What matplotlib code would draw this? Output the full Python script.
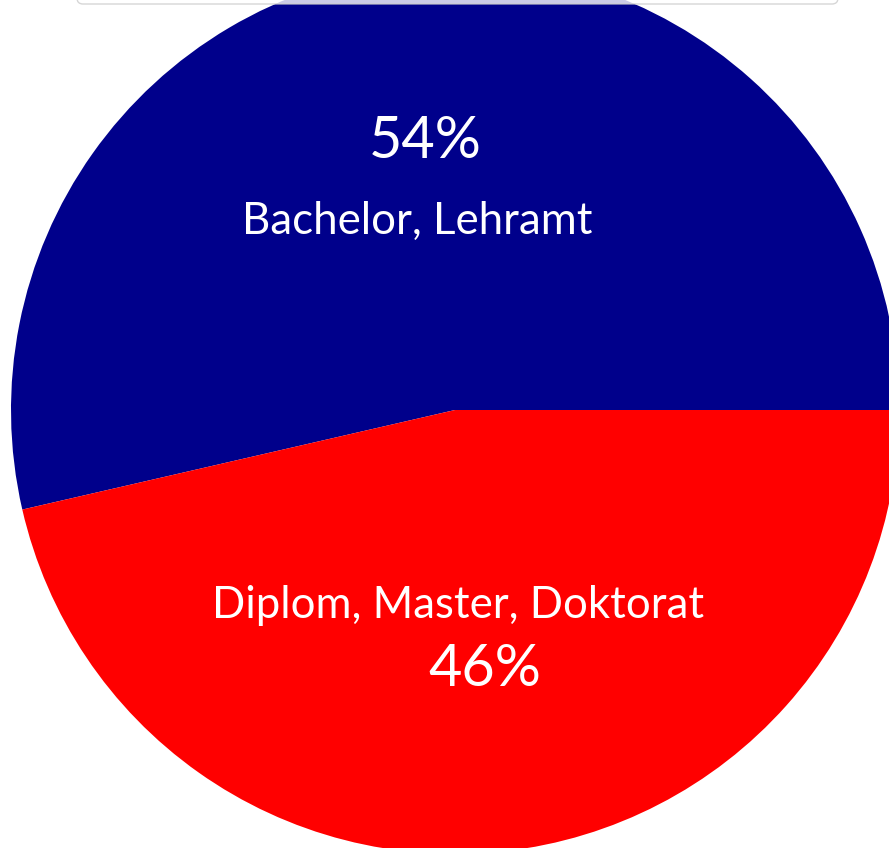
import matplotlib
matplotlib.use("Agg")
import matplotlib.pyplot as plt
from matplotlib.patches import FancyBboxPatch

categories = ["Bachelor, Lehramt", "Diplom, Master, Doktorat"]
values = [53.6, 46.4]
pct_labels = ["54%", "46%"]
colors = ["#00008B", "#FF0000"]

W, H = 889, 848
fig = plt.figure(figsize=(W / 100, H / 100), dpi=100)
ax = fig.add_axes([0, 0, 1, 1])

cx, cy, r = 455, H - 410, 444
ax.pie(values, colors=colors, startangle=0, counterclock=True,
       center=(cx, cy), radius=r, wedgeprops=dict(linewidth=0))
ax.set_xlim(0, W)
ax.set_ylim(0, H)
ax.set_aspect("equal")
ax.axis("off")

font = "Lato"
# category labels
ax.text(417, H - 221, categories[0], color="white", fontsize=31.5, family=font,
        ha="center", va="center")
ax.text(458, H - 606, categories[1], color="white", fontsize=31.5, family=font,
        ha="center", va="center")
# percentage labels
ax.text(425, H - 141, pct_labels[0], color="white", fontsize=41.5, family=font,
        ha="center", va="center")
ax.text(485, H - 670, pct_labels[1], color="white", fontsize=41.5, family=font,
        ha="center", va="center")

# partially visible box at top
box = FancyBboxPatch((77, H - 4), 761, 30, boxstyle="round,pad=0,rounding_size=6",
                     facecolor="white", alpha=0.8, edgecolor="#cccccc",
                     linewidth=1, transform=ax.transData, clip_on=False)
ax.add_patch(box)

fig.savefig("out.png", dpi=100)
